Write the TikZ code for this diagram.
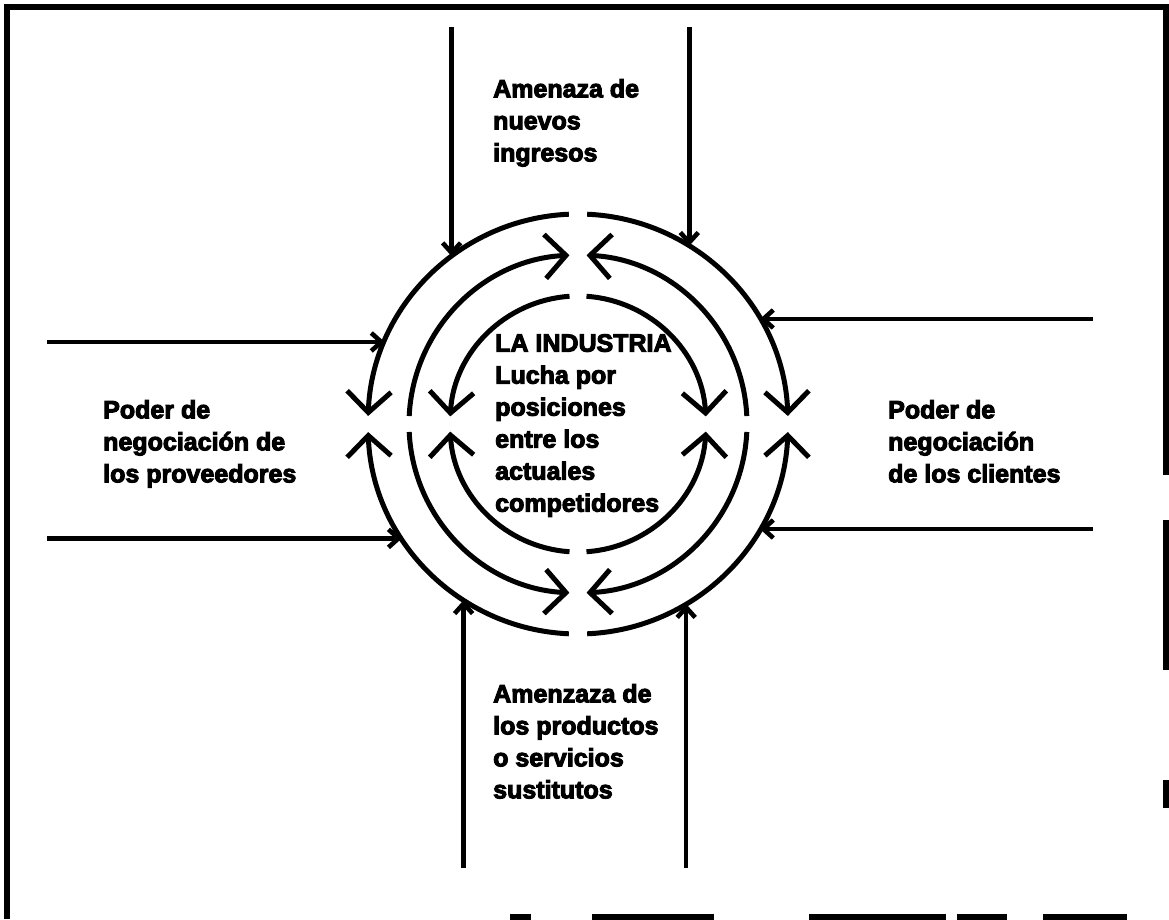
\documentclass[tikz,border=0pt]{standalone}
\usepackage{fontspec}
\setmainfont{Liberation Sans}[BoldFeatures={FakeBold=4}]
\usetikzlibrary{arrows.meta,calc}
\begin{document}
\begin{tikzpicture}[x=1pt,y=1pt,
  ring/.style={line width=5pt},
  bigtip/.style={-{Straight Barb[length=21pt,width=44pt]}},
  feed/.style={line width=4.6pt,-{Straight Barb[length=10pt,width=18pt]}},
  frame/.style={line width=5.5pt},
  lbl/.style={font=\fontsize{25}{32}\selectfont\bfseries, align=left, inner sep=0pt, anchor=north west},
  guide/.style={circle, draw=none, inner sep=0pt, outer sep=0pt}]
\useasboundingbox (0,0) rectangle (1169,-919);
% frame
\draw[frame] (7,-919) -- (7,-7) -- (1166,-7) -- (1166,-475);
\draw[frame] (1166,-520) -- (1166,-670);
\draw[frame] (1166,-780) -- (1166,-808);
\foreach \a/\b in {510/531,592/714,809/946,957/1007,1043/1127}
  \draw[frame] (\a,-917) -- (\b,-917);
% centre and guide circle
\coordinate (c) at (578,-424);
\node[guide, minimum size=420pt] (outer) at (c) {};
% outer ring (r=210)
\draw[ring,bigtip] ($(c)+(92.5:210)$) arc[start angle=92.5, end angle=177.8, radius=210];
\draw[ring,bigtip] ($(c)+(267.5:210)$) arc[start angle=267.5, end angle=182.2, radius=210];
\draw[ring,bigtip] ($(c)+(87.5:210)$) arc[start angle=87.5, end angle=2.2, radius=210];
\draw[ring,bigtip] ($(c)+(272.5:210)$) arc[start angle=272.5, end angle=357.8, radius=210];
% middle ring (r=169)
\draw[ring,bigtip] ($(c)+(177.3:169)$) arc[start angle=177.3, end angle=92.9, radius=169];
\draw[ring,bigtip] ($(c)+(2.7:169)$) arc[start angle=2.7, end angle=87.1, radius=169];
\draw[ring,bigtip] ($(c)+(182.7:169)$) arc[start angle=182.7, end angle=267.1, radius=169];
\draw[ring,bigtip] ($(c)+(357.3:169)$) arc[start angle=357.3, end angle=272.9, radius=169];
% inner ring (r=128)
\draw[ring,bigtip] ($(c)+(93.8:128)$) arc[start angle=93.8, end angle=176.6, radius=128];
\draw[ring,bigtip] ($(c)+(86.2:128)$) arc[start angle=86.2, end angle=3.4, radius=128];
\draw[ring,bigtip] ($(c)+(266.2:128)$) arc[start angle=266.2, end angle=183.4, radius=128];
\draw[ring,bigtip] ($(c)+(273.8:128)$) arc[start angle=273.8, end angle=356.6, radius=128];
% feeder start lines
\coordinate (ytop) at (0,-27);
\coordinate (ybot) at (0,-868);
\coordinate (xleft) at (47,0);
\coordinate (xright) at (1093,0);
\draw[feed] (outer.127.6 |- ytop) -- (outer.127.6);
\draw[feed] (outer.58.4 |- ytop) -- (outer.58.4);
\draw[feed] (outer.237.4 |- ybot) -- (outer.237.4);
\draw[feed] (outer.301.6 |- ybot) -- (outer.301.6);
\draw[feed] (xleft |- outer.157) -- (outer.157);
\draw[feed] (xleft |- outer.213) -- (outer.213);
\draw[feed] (xright |- outer.30.3) -- (outer.30.3);
\draw[feed] (xright |- outer.330.6) -- (outer.330.6);
% labels
\node[lbl] (tlab) at (493,-79) {Amenaza de\\nuevos\\ingresos};
\node[lbl] (clab) at (495,-334) {LA INDUSTRIA\\Lucha por\\posiciones\\entre los\\actuales\\competidores};
\node[lbl] (llab) at (103,-400) {Poder de\\negociación de\\los proveedores};
\node[lbl] (rlab) at (888,-400) {Poder de\\negociación\\de los clientes};
\node[lbl] (blab) at (493,-684) {Amenzaza de\\los productos\\o servicios\\sustitutos};
\end{tikzpicture}
\end{document}
